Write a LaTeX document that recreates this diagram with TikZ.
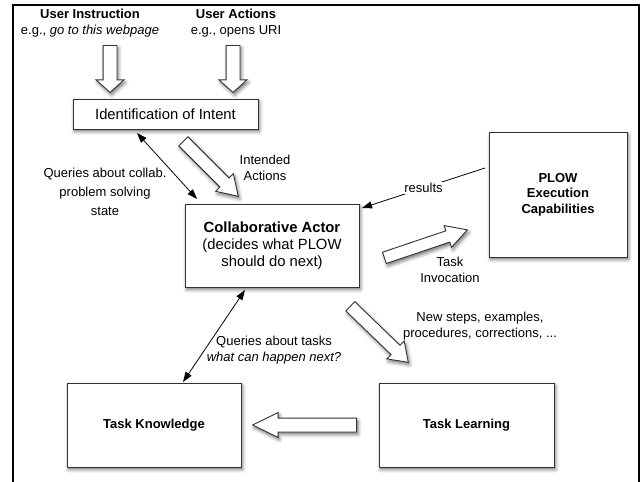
\documentclass[tikz,border=0pt]{standalone}
\usepackage{fontspec}
\setmainfont{Liberation Sans}
\usetikzlibrary{calc,arrows.meta,shapes.arrows,shadows.blur}

\newcommand{\diagfont}{\fontsize{13}{15.5}\selectfont}
\newcommand{\bigdiagfont}{\fontsize{14.8}{17}\selectfont}

% hollow arrow from tail coordinate to tip coordinate
\newcommand{\hollowarrow}[4][]{%
  \path let \p1=($(#4)-(#3)$), \n1={atan2(\y1,\x1)}, \n2={veclen(\x1,\y1)} in
    node[fatarrow, #1, rotate=\n1, minimum height=\n2, anchor=tail] (#2) at (#3) {};}

\tikzset{
  softshadow/.style={blur shadow={shadow xshift=1.5pt, shadow yshift=-2.5pt,
      shadow blur radius=3.5pt, shadow opacity=55}},
  block/.style={draw=black!80, line width=1pt, fill=white, align=center,
    inner sep=2pt, font=\diagfont, softshadow},
  boldblock/.style={block, font=\diagfont\bfseries},
  fatarrow/.style={single arrow, draw=black!80, line width=0.9pt, fill=white,
    inner xsep=0pt, inner ysep=6pt, minimum width=0pt, single arrow head extend=6pt,
    single arrow head indent=0pt, single arrow tip angle=65, softshadow},
  note/.style={align=center, inner sep=1pt, font=\diagfont},
  link/.style={line width=0.8pt, -{Triangle[length=10pt,width=7pt]}},
  twoway/.style={line width=0.8pt,
    {Triangle[length=10pt,width=7pt]}-{Triangle[length=10pt,width=7pt]}},
}

\begin{document}
\begin{tikzpicture}[x=1pt, y=-1pt]

  \useasboundingbox (0,0) rectangle (641,482);
  \draw[line width=2.4pt] (13,495) -- (13,5) -- (639,5) -- (639,495);

  % inputs
  \node[note] (instr) at (90,23) {\textbf{User Instruction}\\e.g., \textit{go to this webpage}};
  \node[note] (actions) at (236,23) {\textbf{User Actions}\\e.g., opens URI};

  % boxes
  \node[block, font=\bigdiagfont, minimum width=185pt, minimum height=30pt] (intent) at (165.5,114) {Identification of Intent};
  \node[block, font=\bigdiagfont, minimum width=174pt, minimum height=83pt] (actor) at (272,245.5)
    {\textbf{Collaborative Actor}\\(decides what PLOW\\should do next)};
  \node[boldblock, minimum width=138pt, minimum height=125pt] (plow) at (558,194.5)
    {PLOW\\Execution\\Capabilities};
  \node[boldblock, minimum width=174pt, minimum height=84pt] (knowledge) at (154,425) {Task Knowledge};
  \node[boldblock, minimum width=175pt, minimum height=84pt] (learning) at (466.5,425) {Task Learning};

  % arrow ends
  \coordinate (instr tail) at (110,45);
  \coordinate (instr tip) at (110,92);
  \coordinate (actions tail) at (233,45);
  \coordinate (actions tip) at (233,92);
  \coordinate (intended tail) at (183,141);
  \coordinate (intended tip) at (238,196);
  \coordinate (invoke tail) at (384,258);
  \coordinate (invoke tip) at (467,230);
  \coordinate (steps tail) at (350,306);
  \coordinate (steps tip) at (408,362);
  \coordinate (learned tail) at (357,425);
  \coordinate (learned tip) at (253,425);
  \coordinate (state top) at (137,133);
  \coordinate (state bottom) at (197,199);
  \coordinate (tasks top) at (245,290);
  \coordinate (tasks bottom) at (183,382);
  \coordinate (results start) at (485,168);
  \coordinate (results end) at (362,208);

  % hollow arrows
  \hollowarrow[inner ysep=6.5pt, single arrow head extend=7pt, single arrow tip angle=96]{instr arrow}{instr tail}{instr tip}
  \hollowarrow[inner ysep=6.5pt, single arrow head extend=7pt, single arrow tip angle=96]{actions arrow}{actions tail}{actions tip}
  \hollowarrow{intended arrow}{intended tail}{intended tip}
  \hollowarrow[inner ysep=5.5pt, single arrow head extend=5.5pt, single arrow tip angle=58]{invoke arrow}{invoke tail}{invoke tip}
  \hollowarrow[single arrow tip angle=70]{steps arrow}{steps tail}{steps tip}
  \hollowarrow[inner ysep=6.5pt, single arrow head extend=5.5pt, single arrow tip angle=52]{learned arrow}{learned tail}{learned tip}

  % thin arrows
  \draw[twoway] (state top) -- (state bottom);
  \draw[twoway] (tasks top) -- (tasks bottom);
  \draw[link] (results start) -- node[note, fill=white] (results) {results} (results end);

  % labels
  \node[note] (intended) at (265,168) {Intended\\Actions};
  \node[note, font=\fontsize{13}{19}\selectfont] (collab) at (105,192) {Queries about collab.\\problem solving\\state};
  \node[note] (invocation) at (450,270) {Task\\Invocation};
  \node[note] (steps) at (480,326) {New steps, examples,\\procedures, corrections, ...};
  \node[note] (tasks) at (274,350) {Queries about tasks\\\textit{what can happen next?}};

\end{tikzpicture}
\end{document}
